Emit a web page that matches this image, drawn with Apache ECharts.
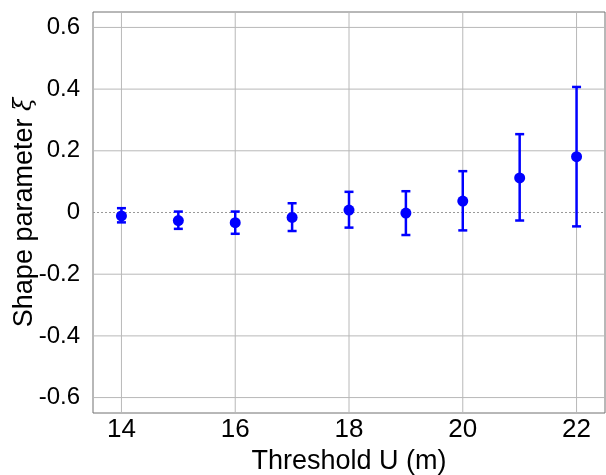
<!DOCTYPE html>
<html>
<head>
<meta charset="utf-8">
<script src="https://cdn.jsdelivr.net/npm/echarts@6/dist/echarts.min.js"></script>
<style>html,body{margin:0;padding:0;background:#fff}#main{width:606px;height:475px}</style>
</head>
<body>
<div id="main"></div>
<script>
// 阈值 U (m)
var thresholds = [14, 15, 16, 17, 18, 19, 20, 21, 22];
// 形状参数估计值
var xiValues = [-0.011, -0.026, -0.033, -0.016, 0.008, -0.002, 0.037, 0.112, 0.181];
// 置信区间上下限
var xiUpper = [0.014, 0.003, 0.003, 0.030, 0.067, 0.069, 0.134, 0.254, 0.407];
var xiLower = [-0.032, -0.053, -0.069, -0.060, -0.049, -0.073, -0.058, -0.026, -0.045];
var xTicks = [14, 16, 18, 20, 22];
var yTicks = [-0.6, -0.4, -0.2, 0, 0.2, 0.4, 0.6];

var chart = echarts.init(document.getElementById('main'));

var pointData = thresholds.map(function (x, i) { return [x, xiValues[i]]; });
var barData = thresholds.map(function (x, i) { return [x, xiLower[i], xiUpper[i]]; });

var font = 'Liberation Sans, Arial, sans-serif';

var option = {
  animation: false,
  grid: {
    left: 93, right: 1, top: 12, bottom: 62,
    containLabel: false, outerBoundsMode: 'none',
    show: true, borderColor: '#707070', borderWidth: 1
  },
  xAxis: {
    type: 'value', min: 13.5, max: 22.5, interval: 1,
    name: 'Threshold U (m)', nameLocation: 'middle', nameGap: 35, nameMoveOverlap: false,
    nameTextStyle: { fontSize: 27, color: '#000', fontFamily: font },
    axisLine: { show: false },
    axisTick: { show: false },
    axisLabel: {
      fontSize: 26, color: '#000', fontFamily: font, margin: 4,
      customValues: xTicks
    },
    splitLine: { show: false }
  },
  yAxis: {
    type: 'value', min: -0.65, max: 0.65,
    name: 'Shape parameter {xi|ξ}', nameLocation: 'middle', nameGap: 55, nameMoveOverlap: false,
    nameTextStyle: {
      fontSize: 27, color: '#000', fontFamily: font,
      rich: { xi: { fontSize: 24, fontFamily: 'DejaVu Serif, serif', fontStyle: 'italic', color: '#000' } }
    },
    axisLine: { show: false },
    axisTick: { show: false },
    axisLabel: {
      fontSize: 24, color: '#000', fontFamily: font, margin: 13,
      customValues: yTicks,
      formatter: function (v) { return v === 0 ? '0' : String(Math.round(v * 10) / 10); }
    },
    splitLine: { show: false }
  },
  series: [
    {
      // 网格线
      type: 'custom',
      silent: true,
      z: 1,
      data: [0],
      renderItem: function (params, api) {
        var cs = params.coordSys;
        var children = [];
        xTicks.forEach(function (t) {
          var p = api.coord([t, 0]);
          children.push({ type: 'line', shape: { x1: p[0], y1: cs.y, x2: p[0], y2: cs.y + cs.height },
            style: { stroke: '#b8b8b8', lineWidth: 1 } });
        });
        yTicks.forEach(function (t) {
          var p = api.coord([13.5, t]);
          children.push({ type: 'line', shape: { x1: cs.x, y1: p[1], x2: cs.x + cs.width, y2: p[1] },
            style: { stroke: t === 0 ? '#999' : '#b8b8b8', lineWidth: 1, lineDash: t === 0 ? [2, 2] : null } });
        });
        return { type: 'group', children: children };
      }
    },
    {
      // 误差棒
      type: 'custom',
      z: 3,
      data: barData,
      renderItem: function (params, api) {
        var x = api.value(0);
        var lo = api.coord([x, api.value(1)]);
        var hi = api.coord([x, api.value(2)]);
        var w = 4.5;
        var st = { stroke: '#0000ff', lineWidth: 2.5 };
        return {
          type: 'group',
          children: [
            { type: 'line', shape: { x1: lo[0], y1: lo[1], x2: hi[0], y2: hi[1] }, style: st },
            { type: 'line', shape: { x1: lo[0] - w, y1: lo[1], x2: lo[0] + w, y2: lo[1] }, style: st },
            { type: 'line', shape: { x1: hi[0] - w, y1: hi[1], x2: hi[0] + w, y2: hi[1] }, style: st }
          ]
        };
      }
    },
    {
      type: 'scatter',
      z: 4,
      data: pointData,
      symbol: 'circle',
      symbolSize: 11,
      itemStyle: { color: '#0000ff', opacity: 1 }
    }
  ]
};

chart.setOption(option);
</script>
</body>
</html>
